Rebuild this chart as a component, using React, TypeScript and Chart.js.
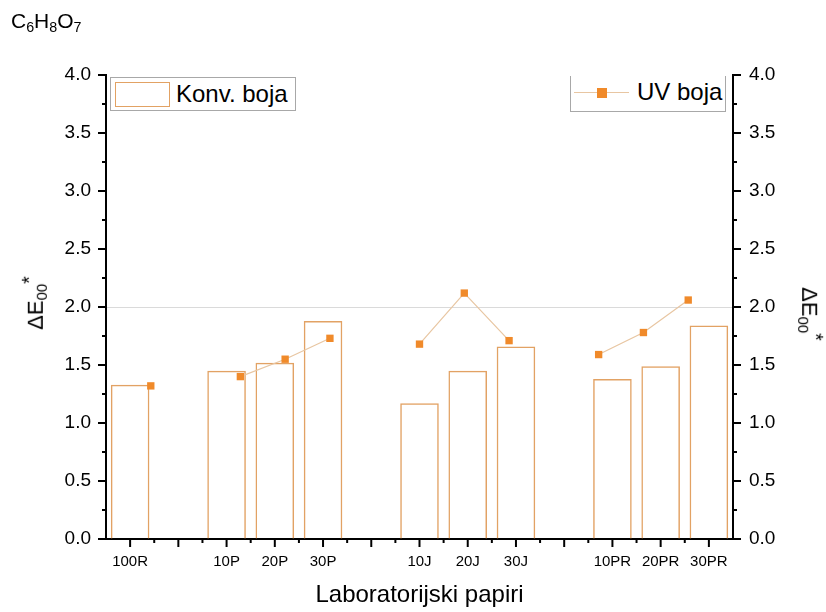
import React, { useEffect, useRef } from 'react';
import { Chart, registerables } from 'chart.js';

Chart.register(...registerables);

// ---- data ----
const categories = ['100R', '', '10P', '20P', '30P', '', '10J', '20J', '30J', '', '10PR', '20PR', '30PR'];
const konvBoja = [1.33, null, 1.45, 1.52, 1.88, null, 1.17, 1.45, 1.66, null, 1.38, 1.49, 1.84];
const uvBoja = [1.32, null, 1.40, 1.55, 1.73, null, 1.68, 2.12, 1.71, null, 1.59, 1.78, 2.06];
const yMin = 0;
const yMax = 4;
const yStep = 0.5;
const yMinorStep = 0.25;
const refLineValue = 2.0;

const W = 826;
const H = 612;
const FONT = '"Liberation Sans", Arial, sans-serif';
const BAR_COLOR = '#E2A264';
const LINE_COLOR = '#E8C6A2';
const MARKER_COLOR = '#F08A2A';

const tickPlugin = {
  id: 'axisTicks',
  afterDraw(chart: any) {
    const ctx = chart.ctx;
    const xs = chart.scales.x;
    const ys = chart.scales.y;
    const { left, right, bottom } = chart.chartArea;
    const line = (x1: number, y1: number, x2: number, y2: number) => {
      ctx.beginPath();
      ctx.moveTo(x1, y1);
      ctx.lineTo(x2, y2);
      ctx.stroke();
    };
    ctx.save();
    ctx.strokeStyle = '#000';
    ctx.lineWidth = 2;
    const n = categories.length;
    const half = (xs.getPixelForValue(1) - xs.getPixelForValue(0)) / 2;
    for (let i = 0; i < n; i++) {
      const px = xs.getPixelForValue(i);
      line(px, bottom, px, bottom + 8);
    }
    for (let i = 1; i < n; i++) {
      const px = xs.getPixelForValue(i) - half;
      line(px, bottom, px, bottom + 4);
    }
    const count = Math.round((yMax - yMin) / yMinorStep);
    for (let k = 0; k <= count; k++) {
      const v = yMin + k * yMinorStep;
      const r = v / yStep;
      const major = Math.abs(r - Math.round(r)) < 1e-6;
      const len = major ? 8 : 4;
      const py = ys.getPixelForValue(v);
      line(left - len, py, left, py);
      line(right, py, right + len, py);
    }
    ctx.restore();
  },
};

function ChartCanvas() {
  const ref = useRef<HTMLCanvasElement | null>(null);
  useEffect(() => {
    if (!ref.current) return;
    const linePoints = uvBoja.map((v, i) => ({ x: i, y: v }));
    const chart = new Chart(ref.current, {
      type: 'bar',
      data: {
        labels: categories,
        datasets: [
          {
            type: 'line',
            label: 'UV boja',
            data: linePoints as any,
            xAxisID: 'xLine',
            yAxisID: 'y',
            borderColor: LINE_COLOR,
            borderWidth: 1.2,
            pointStyle: 'rect',
            pointRadius: 5.2,
            pointBackgroundColor: MARKER_COLOR,
            pointBorderColor: MARKER_COLOR,
            pointBorderWidth: 0,
            spanGaps: false,
            order: 0,
          } as any,
          {
            type: 'bar',
            label: 'Konv. boja',
            data: konvBoja as any,
            xAxisID: 'x',
            yAxisID: 'y',
            backgroundColor: 'rgba(0,0,0,0)',
            borderColor: BAR_COLOR,
            borderWidth: 1.5,
            barPercentage: 0.8,
            categoryPercentage: 1,
            grouped: false,
            order: 1,
          } as any,
        ],
      },
      options: {
        responsive: false,
        animation: false,
        devicePixelRatio: 1,
        layout: { padding: { top: 75, left: 0, right: 0, bottom: 0 } },
        plugins: {
          legend: { display: false },
          tooltip: { enabled: false },
          title: { display: false },
        },
        scales: {
          x: {
            type: 'category',
            position: 'bottom',
            offset: true,
            grid: { display: false, drawTicks: false },
            border: { display: true, color: '#000', width: 2 },
            ticks: {
              autoSkip: false,
              maxRotation: 0,
              padding: 14,
              color: '#000',
              font: { family: FONT, size: 15 },
            },
            title: {
              display: true,
              text: 'Laboratorijski papiri',
              color: '#000',
              font: { family: FONT, size: 24 },
              padding: { top: 0, bottom: 2 },
            },
            afterFit: (s: any) => {
              s.height = 73;
            },
          },
          xLine: {
            type: 'linear',
            axis: 'x',
            display: false,
            offset: false,
            min: -1,
            max: 13,
          },
          y: {
            type: 'linear',
            position: 'left',
            min: yMin,
            max: yMax,
            ticks: {
              stepSize: yStep,
              padding: 15,
              color: '#000',
              font: { family: FONT, size: 19 },
              callback: (v: any) => Number(v).toFixed(1),
            },
            grid: {
              drawTicks: false,
              color: (c: any) => (c.tick && Math.abs(c.tick.value - refLineValue) < 1e-9 ? '#DADADA' : 'rgba(0,0,0,0)'),
              lineWidth: 1,
            },
            border: { display: true, color: '#000', width: 2 },
            afterFit: (s: any) => {
              s.width = 106;
            },
          },
          y2: {
            type: 'linear',
            position: 'right',
            min: yMin,
            max: yMax,
            ticks: {
              stepSize: yStep,
              padding: 16,
              color: '#000',
              font: { family: FONT, size: 19 },
              callback: (v: any) => Number(v).toFixed(1),
            },
            grid: { display: false, drawTicks: false },
            border: { display: true, color: '#000', width: 2 },
            afterFit: (s: any) => {
              s.width = 93;
            },
          },
        },
      },
      plugins: [tickPlugin],
    } as any);
    return () => chart.destroy();
  }, []);
  return <canvas ref={ref} width={W} height={H} style={{ display: 'block', width: W, height: H }} />;
}

export default function App() {
  const base: React.CSSProperties = { position: 'absolute', fontFamily: FONT, color: '#000', whiteSpace: 'nowrap' };
  const subStyle: React.CSSProperties = { fontSize: '0.68em', verticalAlign: '-0.3em' };
  const yTitle = (
    <>
      ΔE<span style={subStyle}>00</span>
      <span style={{ fontSize: '0.9em', verticalAlign: '0.35em' }}>*</span>
    </>
  );
  return (
    <div style={{ position: 'absolute', left: 0, top: 0, width: W, height: H, background: '#fff', overflow: 'hidden' }}>
      <ChartCanvas />
      <div style={{ ...base, left: 11, top: 9, fontSize: 21 }}>
        C<span style={subStyle}>6</span>H<span style={subStyle}>8</span>O<span style={subStyle}>7</span>
      </div>
      <div
        style={{
          ...base,
          left: 35,
          top: 303,
          fontSize: 22,
          lineHeight: 1,
          transform: 'translate(-50%, -50%) rotate(-90deg)',
        }}
      >
        {yTitle}
      </div>
      <div
        style={{
          ...base,
          left: 810,
          top: 314,
          fontSize: 22,
          lineHeight: 1,
          transform: 'translate(-50%, -50%) rotate(90deg)',
        }}
      >
        {yTitle}
      </div>
      {/* legend: Konv. boja */}
      <div
        style={{
          position: 'absolute',
          left: 110,
          top: 77,
          width: 186,
          height: 34,
          border: '1px solid #A8A8A8',
          background: '#fff',
          boxSizing: 'border-box',
        }}
      >
        <div
          style={{
            position: 'absolute',
            left: 4,
            top: 4,
            width: 55,
            height: 25,
            border: `1.5px solid ${BAR_COLOR}`,
            boxSizing: 'border-box',
          }}
        />
        <div style={{ ...base, left: 65, top: 2, fontSize: 24, lineHeight: '28px' }}>Konv. boja</div>
      </div>
      {/* legend: UV boja */}
      <div
        style={{
          position: 'absolute',
          left: 570,
          top: 76,
          width: 156,
          height: 36,
          borderLeft: '1px solid #A8A8A8',
          borderRight: '1px solid #A8A8A8',
          borderBottom: '1px solid #A8A8A8',
          background: '#fff',
          boxSizing: 'border-box',
        }}
      >
        <div style={{ position: 'absolute', left: 3, top: 16, width: 55, height: 1.2, background: LINE_COLOR }} />
        <div style={{ position: 'absolute', left: 25.5, top: 11.5, width: 10, height: 10, background: MARKER_COLOR }} />
        <div style={{ ...base, left: 66, top: 2, fontSize: 24, lineHeight: '28px' }}>UV boja</div>
      </div>
    </div>
  );
}
